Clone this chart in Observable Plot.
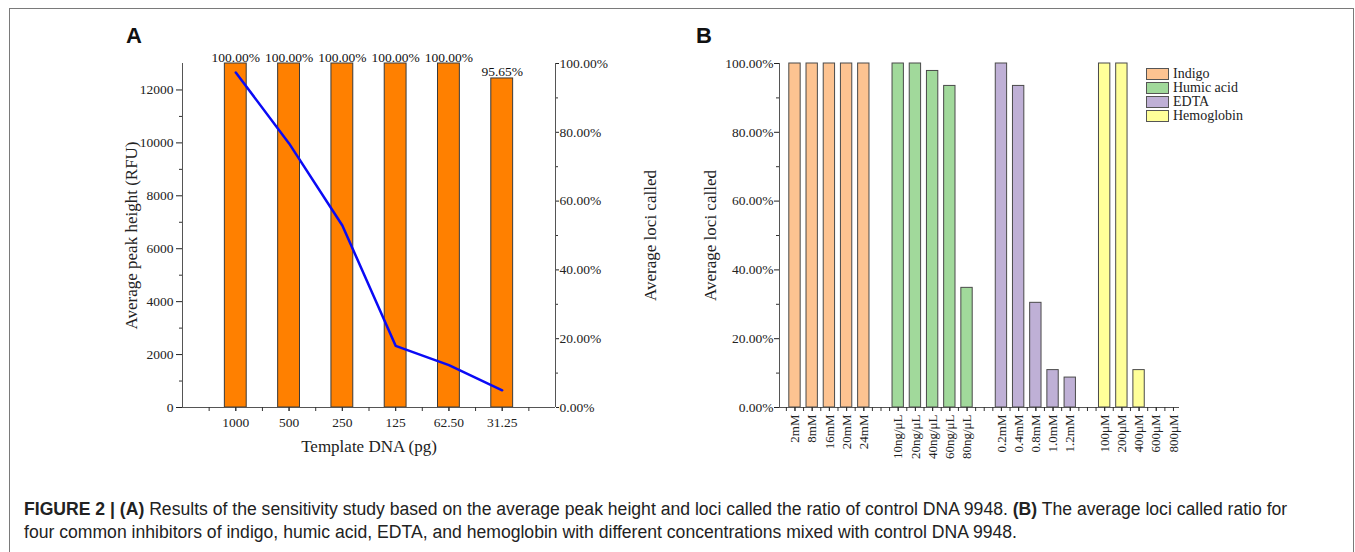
<!DOCTYPE html>
<html><head><meta charset="utf-8">
<script src="https://cdn.jsdelivr.net/npm/d3@7"></script>
<script src="https://cdn.jsdelivr.net/npm/@observablehq/plot@0.6"></script>
<style>
body{margin:0;background:#fff;}
#fig{position:relative;width:1355px;height:552px;overflow:hidden;background:#fff;}
#frame{position:absolute;left:9px;top:8px;width:1345px;height:600px;border:1px solid #7a7a7a;box-sizing:border-box;}
.layer{position:absolute;top:0;}
.layer svg{overflow:visible;}
.letter{position:absolute;font-family:"Liberation Sans",Arial,sans-serif;font-weight:bold;font-size:22px;line-height:22px;color:#111;}
#caption{position:absolute;left:24px;top:498px;width:1325px;font-family:"Liberation Sans",Arial,sans-serif;font-size:17.6px;line-height:23px;color:#222;white-space:nowrap;}
#legend{position:absolute;left:1146px;top:67px;font-family:"Liberation Serif",serif;font-size:14px;color:#222;}
#legend .row{display:flex;align-items:center;height:14px;}
#legend .sw{width:23px;height:12px;box-sizing:border-box;border:1px solid #555;margin-right:4px;}
g[aria-label="y-axis label"], g[aria-label="x-axis label"]{font-size:17px;}
</style>
</head><body>
<div id="fig">
  <div id="frame"></div>
  <div class="letter" style="left:126px;top:25px;">A</div>
  <div class="letter" style="left:696px;top:25px;">B</div>
  <div id="plotA" class="layer" style="left:0px;"></div>
  <div id="plotA2" class="layer" style="left:0px;"></div>
  <div id="plotB" class="layer" style="left:680px;"></div>
  <div id="legend"></div>
  <div id="caption"><b>FIGURE 2 | (A)</b> Results of the sensitivity study based on the average peak height and loci called the ratio of control DNA 9948. <b>(B)</b> The average loci called ratio for<br>four common inhibitors of indigo, humic acid, EDTA, and hemoglobin with different concentrations mixed with control DNA 9948.</div>
</div>
<script>
// ---------- Panel A data ----------
const templateDNA = ["1000", "500", "250", "125", "62.50", "31.25"];
const lociCalledA = [100, 100, 100, 100, 100, 95.65];
const peakHeightA = [12660, 9980, 6880, 2330, 1600, 650];
const peakTicks = [0, 2000, 4000, 6000, 8000, 10000, 12000];
const pctTicks = [0, 20, 40, 60, 80, 100];

// ---------- Panel B data ----------
const inhibitors = ["Indigo", "Humic acid", "EDTA", "Hemoglobin"];
const indigoConc = ["2mM", "8mM", "16mM", "20mM", "24mM"];
const humicConc = ["10ng/μL", "20ng/μL", "40ng/μL", "60ng/μL", "80ng/μL"];
const edtaConc = ["0.2mM", "0.4mM", "0.8mM", "1.0mM", "1.2mM"];
const hemoConc = ["100μM", "200μM", "400μM", "600μM", "800μM"];
const indigoLoci = [100, 100, 100, 100, 100];
const humicLoci = [100, 100, 97.83, 93.48, 34.78];
const edtaLoci = [100, 93.48, 30.43, 10.87, 8.70];
const hemoLoci = [100, 100, 10.87, 0, 0];
const inhibitorColors = ["#FDC391", "#A1D99B", "#BFB0D6", "#FFFF99"];

const pctFmt = d => d.toFixed(2) + "%";
const serif = "'Liberation Serif', 'Times New Roman', serif";
const fs = 13.5;

// ---------- Panel A ----------
const rowsA = templateDNA.map((t, i) => ({pos: i + 1, dna: t, loci: lociCalledA[i], peak: peakHeightA[i]}));
const xDomA = [0, templateDNA.length + 1];
const halfA = d3.range(0.5, xDomA[1], 0.5);
const dimsA = {width: 680, height: 470, marginLeft: 182, marginRight: 125, marginTop: 63, marginBottom: 63};

const plotA = Plot.plot({
  ...dimsA,
  style: {fontFamily: serif, fontSize: "13.5px", color: "#333", background: "transparent"},
  x: {type: "linear", domain: xDomA},
  y: {domain: [0, 100]},
  marks: [
    Plot.rect(rowsA, {x1: d => d.pos - 0.205, x2: d => d.pos + 0.205, y1: () => 0, y2: "loci", fill: "#FF8000", stroke: "#3a3a3a", strokeWidth: 1}),
    Plot.text(rowsA, {x: "pos", y: "loci", text: d => pctFmt(d.loci), lineAnchor: "bottom", dy: -2, fill: "#111", fontSize: fs}),
    Plot.ruleY([0], {stroke: "#555"}),
    Plot.ruleX(xDomA, {stroke: "#555"}),
    Plot.axisY({anchor: "right", ticks: pctTicks, tickFormat: pctFmt, tickSize: 3, tickPadding: 1, fontSize: fs, label: "Average loci called", labelArrow: "none", labelAnchor: "center", labelOffset: 100, color: "#222"}),
    Plot.axisY({anchor: "right", ticks: [10, 30, 50, 70, 90], tickSize: 2, tickFormat: () => "", label: null}),
    Plot.axisX({ticks: rowsA.map(d => d.pos), tickFormat: d => templateDNA[d - 1], tickSize: 4, tickPadding: 6, fontSize: fs, label: "Template DNA (pg)", labelArrow: "none", labelAnchor: "center", labelOffset: 44, color: "#222"}),
    Plot.axisX({ticks: halfA, tickSize: 4, tickFormat: () => "", label: null})
  ]
});
document.getElementById("plotA").append(plotA);

const plotA2 = Plot.plot({
  ...dimsA,
  style: {fontFamily: serif, fontSize: "13.5px", color: "#333", background: "transparent"},
  x: {type: "linear", domain: xDomA, axis: null},
  y: {domain: [0, 13000]},
  marks: [
    Plot.line(rowsA, {x: "pos", y: "peak", stroke: "#0A0AF5", strokeWidth: 2.5}),
    Plot.axisY({anchor: "left", ticks: peakTicks, tickFormat: d => String(d), tickSize: 6, tickPadding: 3, fontSize: fs, label: "Average peak height (RFU)", labelArrow: "none", labelAnchor: "center", labelOffset: 58, color: "#222"}),
    Plot.axisY({anchor: "left", ticks: d3.range(1000, 13000, 2000), tickSize: 3, tickFormat: () => "", label: null})
  ]
});
document.getElementById("plotA2").append(plotA2);

// ---------- Panel B ----------
const concB = [indigoConc, humicConc, edtaConc, hemoConc];
const lociB = [indigoLoci, humicLoci, edtaLoci, hemoLoci];
const rowsB = inhibitors.flatMap((g, gi) => concB[gi].map((c, j) => ({group: g, conc: c, pos: gi * 6 + j + 1, value: lociB[gi][j]})));
const labelByPos = new Map(rowsB.map(d => [d.pos, d.conc]));
const xDomB = [0.1, 23.35];
const halfB = d3.range(0.5, 23.2, 0.5);

const plotB = Plot.plot({
  width: 675, height: 470, marginLeft: 99, marginRight: 176, marginTop: 63, marginBottom: 63,
  style: {fontFamily: serif, fontSize: "13.5px", color: "#333", background: "transparent"},
  x: {type: "linear", domain: xDomB},
  y: {domain: [0, 100]},
  color: {domain: inhibitors, range: inhibitorColors},
  marks: [
    Plot.rect(rowsB.filter(d => d.value > 0), {x1: d => d.pos - 0.33, x2: d => d.pos + 0.33, y1: () => 0, y2: "value", fill: "group", stroke: "#4a4a4a", strokeWidth: 1}),
    Plot.ruleY([0], {stroke: "#555"}),
    Plot.ruleX([xDomB[0]], {stroke: "#555"}),
    Plot.axisY({ticks: pctTicks, tickFormat: pctFmt, tickSize: 5, tickPadding: 1, fontSize: fs, label: "Average loci called", labelArrow: "none", labelAnchor: "center", labelOffset: 76, color: "#222"}),
    Plot.axisY({ticks: [10, 30, 50, 70, 90], tickSize: 3, tickFormat: () => "", label: null}),
    Plot.axisX({ticks: rowsB.map(d => d.pos), tickFormat: d => labelByPos.get(d), tickRotate: -90, tickSize: 4, tickPadding: 3, fontSize: 13, label: null, color: "#222"}),
    Plot.axisX({ticks: halfB, tickSize: 4, tickFormat: () => "", label: null})
  ]
});
document.getElementById("plotB").append(plotB);

// legend
const legend = document.getElementById("legend");
inhibitors.forEach((g, i) => {
  const row = document.createElement("div");
  row.className = "row";
  const sw = document.createElement("div");
  sw.className = "sw";
  sw.style.background = inhibitorColors[i];
  const t = document.createElement("span");
  t.textContent = g;
  row.append(sw, t);
  legend.append(row);
});
</script>
</body></html>
